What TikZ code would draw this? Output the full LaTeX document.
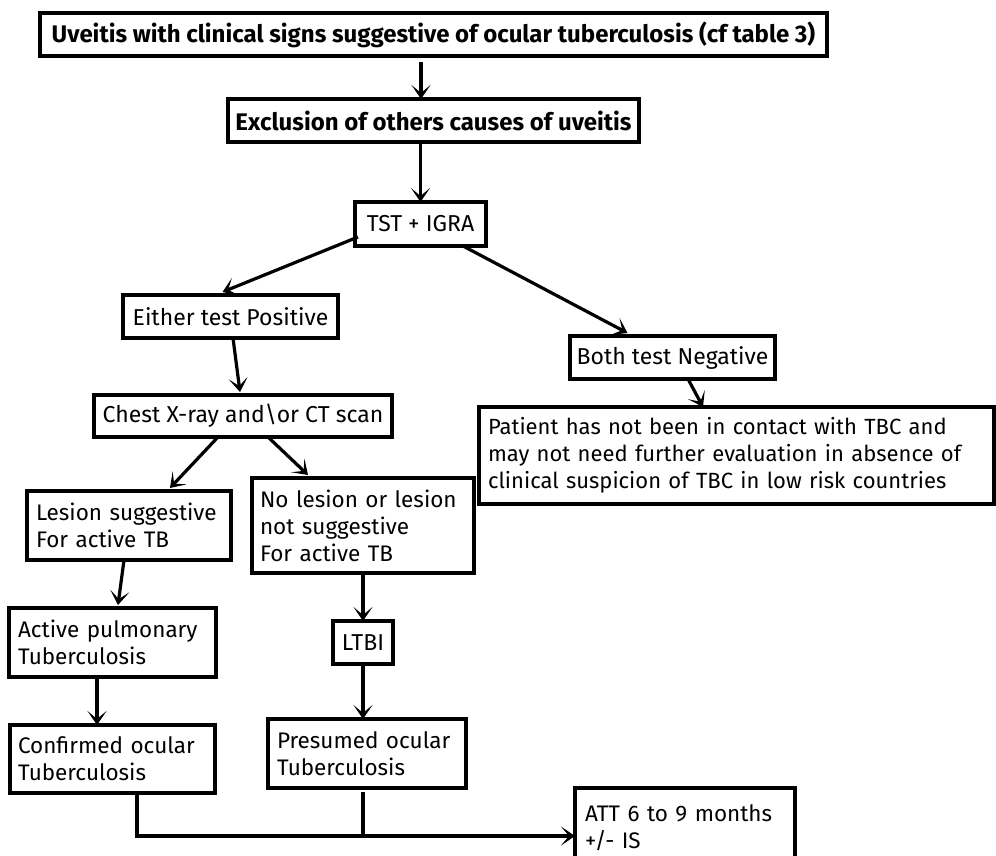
\documentclass[tikz,border=0pt]{standalone}
\usepackage{fontspec}
\setmainfont{Fira Sans}
\usetikzlibrary{arrows.meta,calc}
\tikzset{
  bx/.style={draw, line width=3.2pt, inner ysep=0pt, outer sep=0pt, font=\fontsize{22.5}{27}\selectfont},
  one/.style={font=\fontsize{23}{27}\selectfont},
  ttl/.style={font=\fontsize{24}{28}\selectfont\bfseries},
  arr/.style={line width=3.2pt, -{Stealth[length=14pt,width=19pt,inset=8pt]}},
  ln/.style={line width=3.2pt},
}
% \bxl{name}{x1}{y1}{x2}{y2}{pad}{text}  left aligned
\newcommand\bxl[8][]{%
  \pgfmathsetmacro\bh{#6-#4}\pgfmathsetmacro\tw{#5-#3-2*#7}%
  \node[bx, align=left, inner xsep=#7pt, text width=\tw pt, minimum height=\bh pt, #1] (#2) at ({(#3+#5)/2},{(#4+#6)/2}) {#8};}
\begin{document}
\begin{tikzpicture}[x=1pt,y=-1pt]
\clip (0,0) rectangle (996,855);
\fill[white] (0,0) rectangle (996,855);
% single-line boxes
\node[bx, ttl, inner xsep=0pt, minimum width=787pt, minimum height=43pt] (title) at (433.5,34.5) {Uveitis with clinical signs suggestive of ocular tuberculosis (cf table 3)};
\node[bx, ttl, inner xsep=0pt, minimum width=411pt, minimum height=43pt] (excl) at (433.5,120.5) {Exclusion of others causes of uveitis};
\node[bx, one, inner xsep=0pt, minimum width=131pt, minimum height=44pt] (tst) at (420.5,224) {TST + IGRA};
\node[bx, one, inner xsep=0pt, minimum width=215pt, minimum height=43pt] (either) at (230.5,316.5) {Either test Positive};
\node[bx, one, inner xsep=0pt, minimum width=205pt, minimum height=43pt] (both) at (672.5,357.5) {Both test Negative};
\node[bx, one, inner xsep=0pt, minimum width=298pt, minimum height=42pt] (chest) at (243,416) {Chest X-ray and\textbackslash or CT scan};
\node[bx, one, inner xsep=0pt, minimum width=60pt, minimum height=43pt] (ltbi) at (363,642.5) {LTBI};
% multi-line boxes
\bxl[font=\fontsize{22}{27}\selectfont]{patient}{479}{407}{994}{504}{9}{Patient has not been in contact with TBC and\\may not need further evaluation in absence of\\clinical suspicion of TBC in low risk countries}
\bxl{lesion}{27}{491}{231}{560}{9}{Lesion suggestive\\For active TB}
\bxl{nolesion}{252}{478}{474}{573}{8}{No lesion or lesion\\not suggestive\\For active TB}
\bxl{active}{9}{608}{216}{677}{9}{Active pulmonary\\Tuberculosis}
\bxl{confirmed}{10}{725}{215}{793}{8}{Confirmed ocular\\Tuberculosis}
\bxl{presumed}{268}{719}{466}{788}{9}{Presumed ocular\\Tuberculosis}
\node[bx, align=left, anchor=north west, inner xsep=10pt, inner ysep=9pt, text width=200pt, minimum height=90pt, text depth=40pt] (att) at (575,788) {ATT 6 to 9 months\\+/- IS};
% connectors
\draw[arr] ([xshift=-12.5pt,yshift=-6pt]title.south) -- ([xshift=-12.5pt]excl.north);
\draw[arr] (excl.south -| tst.north) -- (tst.north);
\draw[arr] ([xshift=3pt,yshift=9pt]tst.south west) -- ([xshift=-8pt,yshift=3pt]either.north);
\draw[arr] ([xshift=-23pt]tst.south east) -- ([xshift=-45pt,yshift=3pt]both.north);
\draw[arr] ([xshift=15.5pt]both.south) -- ([xshift=224pt]patient.north west);
\draw[arr] ([xshift=2.5pt]either.south) -- ([xshift=-3pt,yshift=3pt]chest.north);
\draw[arr] ([xshift=-25pt]chest.south) -- ([xshift=41pt,yshift=3pt]lesion.north);
\draw[arr] ([xshift=25pt]chest.south) -- ([xshift=-55pt,yshift=3pt]nolesion.north);
\draw[arr] ([xshift=-5pt]lesion.south) -- ([xshift=5.5pt,yshift=3pt]active.north);
\draw[arr] ([xshift=-15.5pt]active.south) -- ([xshift=-15.5pt]confirmed.north);
\draw[arr] (nolesion.south) -- (ltbi.north);
\draw[arr] (ltbi.south) -- (ltbi.south |- presumed.north);
\coordinate (jn) at (363,836);
\draw[arr] ([xshift=127pt]confirmed.south west) |- ([yshift=-48pt]att.north west);
\draw[ln] ([yshift=-4pt]presumed.south -| ltbi.south) -- (jn);
\end{tikzpicture}
\end{document}
